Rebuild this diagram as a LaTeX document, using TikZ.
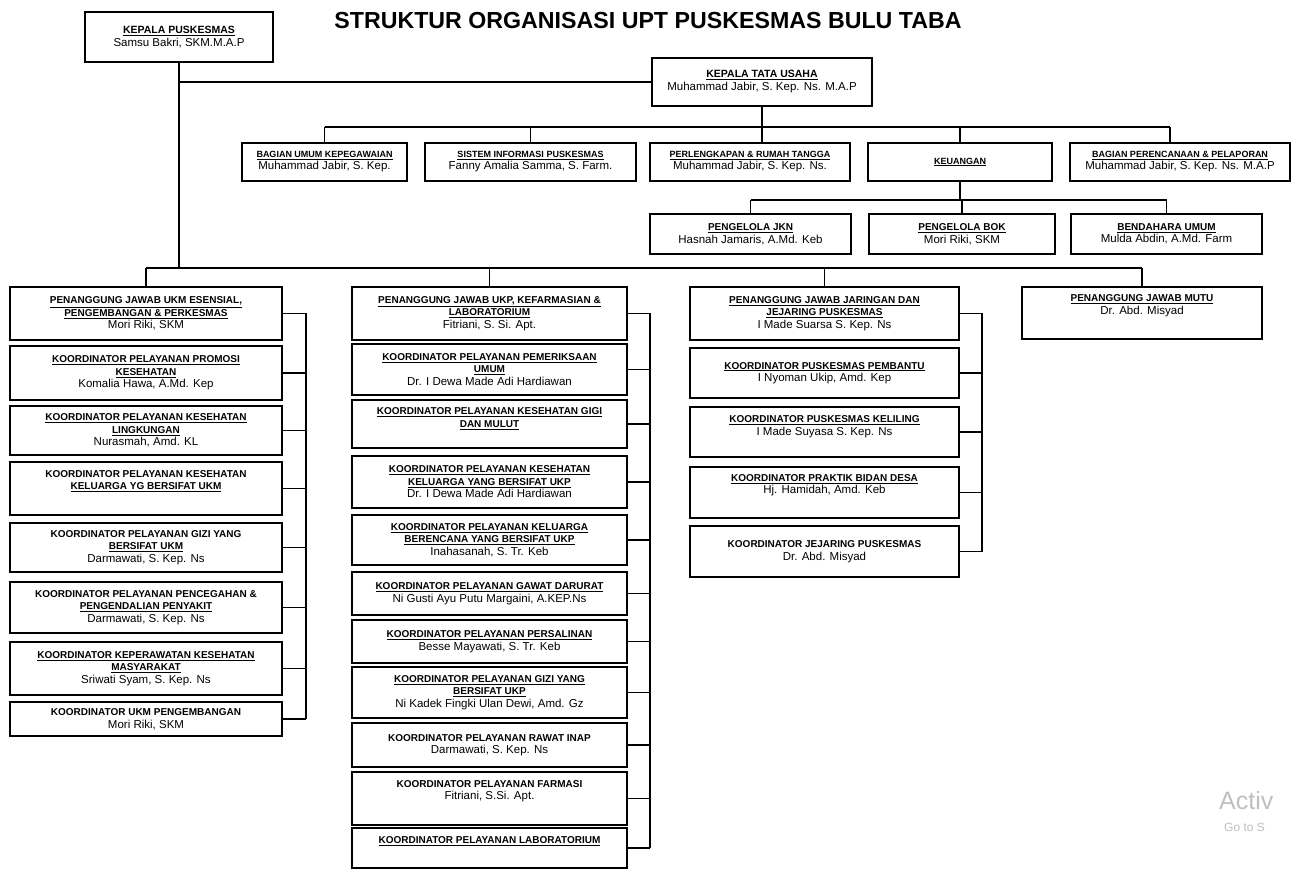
\documentclass[tikz,border=0pt]{standalone}
\usepackage{fontspec}
\setmainfont{Liberation Sans}
\newcommand{\hd}[1]{\underline{\textbf{#1}}}
\newcommand{\hb}[1]{\textbf{#1}}
\newcommand{\nm}[1]{{\fontsize{11.5}{13.5}\selectfont #1}}
\newcommand{\hs}{\rule{0pt}{5pt}}
\newcommand{\bx}[7][]{\node[box,#1,minimum width={#5-#3},minimum height={#6-#4}] (#2) at ({(#3+#5)/2},{(#4+#6)/2}) {#7};}
\tikzset{
  box/.style={draw=black, line width=1.2pt, inner sep=1pt, align=center, fill=white,
    font=\fontsize{10}{12.5}\selectfont},
  small/.style={font=\fontsize{9}{12}\selectfont},
  mid/.style={font=\fontsize{10}{12.5}\selectfont},
  big/.style={font=\fontsize{10.5}{13}\selectfont},
  ln/.style={draw=black, line width=1.1pt},
  wm/.style={text=black!25, anchor=west, inner sep=0pt}
}
\begin{document}
\begin{tikzpicture}[x=1pt,y=-1pt]
\fill[white] (0,0) rectangle (1295,874);
\useasboundingbox (0,0) rectangle (1295,874);

\node[font=\bfseries\fontsize{23.2}{27}\selectfont] (title) at (648,21) {STRUKTUR ORGANISASI UPT PUSKESMAS BULU TABA};

% top level
\bx[big]{kp}{85}{12}{273}{62}{\hd{KEPALA PUSKESMAS}\\ \nm{Samsu Bakri, SKM.M.A.P}}
\bx[big]{ktu}{652}{58}{872}{106}{\hd{KEPALA TATA USAHA}\\ \nm{Muhammad Jabir, S. Kep. Ns. M.A.P}}

% row 2
\bx[small]{b1}{242}{143}{407}{181}{\hd{BAGIAN UMUM KEPEGAWAIAN}\\ \nm{Muhammad Jabir, S. Kep.}}
\bx[small]{b2}{425}{143}{636}{181}{\hd{SISTEM INFORMASI PUSKESMAS}\\ \nm{Fanny Amalia Samma, S. Farm.}}
\bx[small]{b3}{650}{143}{850}{181}{\hd{PERLENGKAPAN \& RUMAH TANGGA}\\ \nm{Muhammad Jabir, S. Kep. Ns.}}
\bx[small]{b4}{868}{143}{1052}{181}{\hd{KEUANGAN}}
\bx[small]{b5}{1070}{143}{1290}{181}{\hd{BAGIAN PERENCANAAN \& PELAPORAN}\\ \nm{Muhammad Jabir, S. Kep. Ns. M.A.P}}

% row 3
\bx[mid]{c1}{650}{214}{851}{254}{\hd{PENGELOLA JKN}\\ \nm{Hasnah Jamaris, A.Md. Keb}}
\bx[mid]{c2}{869}{214}{1055}{254}{\hd{PENGELOLA BOK}\\ \nm{Mori Riki, SKM}}
\bx[mid]{c3}{1071}{214}{1262}{254}{\hd{BENDAHARA UMUM}\\ \nm{Mulda Abdin, A.Md. Farm}}

% left column
\bx{l1}{10}{287}{282}{340}{\hd{PENANGGUNG JAWAB UKM ESENSIAL,}\\ \hd{PENGEMBANGAN \& PERKESMAS}\\ \nm{Mori Riki, SKM}}
\bx{l2}{10}{346}{282}{400}{\hd{KOORDINATOR PELAYANAN PROMOSI}\\ \hd{KESEHATAN}\\ \nm{Komalia Hawa, A.Md. Kep}}
\bx{l3}{10}{406}{282}{455}{\hd{KOORDINATOR PELAYANAN KESEHATAN}\\ \hd{LINGKUNGAN}\\ \nm{Nurasmah, Amd. KL}}
\bx{l4}{10}{462}{282}{515}{\hb{KOORDINATOR PELAYANAN KESEHATAN}\\ \hd{KELUARGA YG BERSIFAT UKM}\\ \nm{\strut}}
\bx{l5}{10}{523}{282}{572}{\hb{KOORDINATOR PELAYANAN GIZI YANG}\\ \hd{BERSIFAT UKM}\\ \nm{Darmawati, S. Kep. Ns}}
\bx{l6}{10}{582}{282}{633}{\hb{KOORDINATOR PELAYANAN PENCEGAHAN \&}\\ \hd{PENGENDALIAN PENYAKIT}\\ \nm{Darmawati, S. Kep. Ns}}
\bx{l7}{10}{642}{282}{695}{\hd{KOORDINATOR KEPERAWATAN KESEHATAN}\\ \hd{MASYARAKAT}\\ \nm{Sriwati Syam, S. Kep. Ns}}
\bx{l8}{10}{702}{282}{736}{\hb{KOORDINATOR UKM PENGEMBANGAN}\\ \nm{Mori Riki, SKM}}

% middle column
\bx{m1}{352}{287}{627}{340}{\hd{PENANGGUNG JAWAB UKP, KEFARMASIAN \&}\\ \hd{LABORATORIUM}\\ \nm{Fitriani, S. Si. Apt.}}
\bx{m2}{352}{344}{627}{395}{\hd{KOORDINATOR PELAYANAN PEMERIKSAAN}\\ \hd{UMUM}\\ \nm{Dr. I Dewa Made Adi Hardiawan}}
\bx{m3}{352}{400}{627}{448}{\hd{KOORDINATOR PELAYANAN KESEHATAN GIGI}\\ \hd{DAN MULUT}\\ \hs}
\bx{m4}{352}{456}{627}{508}{\hd{KOORDINATOR PELAYANAN KESEHATAN}\\ \hd{KELUARGA YANG BERSIFAT UKP}\\ \nm{Dr. I Dewa Made Adi Hardiawan}}
\bx{m5}{352}{515}{627}{565}{\hd{KOORDINATOR PELAYANAN KELUARGA}\\ \hd{BERENCANA YANG BERSIFAT UKP}\\ \nm{Inahasanah, S. Tr. Keb}}
\bx{m6}{352}{572}{627}{615}{\hd{KOORDINATOR PELAYANAN GAWAT DARURAT}\\ \nm{Ni Gusti Ayu Putu Margaini, A.KEP.Ns}}
\bx{m7}{352}{620}{627}{663}{\hd{KOORDINATOR PELAYANAN PERSALINAN}\\ \nm{Besse Mayawati, S. Tr. Keb}}
\bx{m8}{352}{667}{627}{718}{\hd{KOORDINATOR PELAYANAN GIZI YANG}\\ \hd{BERSIFAT UKP}\\ \nm{Ni Kadek Fingki Ulan Dewi, Amd. Gz}}
\bx{m9}{352}{723}{627}{767}{\hb{KOORDINATOR PELAYANAN RAWAT INAP}\\ \nm{Darmawati, S. Kep. Ns}}
\bx{m10}{352}{772}{627}{825}{\hb{KOORDINATOR PELAYANAN FARMASI}\\ \nm{Fitriani, S.Si. Apt.}\\ \nm{\strut}}
\bx{m11}{352}{828}{627}{868}{\hd{KOORDINATOR PELAYANAN LABORATORIUM}\\ \nm{\strut}}

% right column
\bx{r1}{690}{287}{959}{340}{\hd{PENANGGUNG JAWAB JARINGAN DAN}\\ \hd{JEJARING PUSKESMAS}\\ \nm{I Made Suarsa S. Kep. Ns}}
\bx{r2}{690}{348}{959}{398}{\hd{KOORDINATOR PUSKESMAS PEMBANTU}\\ \nm{I Nyoman Ukip, Amd. Kep}}
\bx{r3}{690}{407}{959}{457}{\hd{KOORDINATOR PUSKESMAS KELILING}\\ \nm{I Made Suyasa S. Kep. Ns}\\ \hs}
\bx{r4}{690}{467}{959}{518}{\hd{KOORDINATOR PRAKTIK BIDAN DESA}\\ \nm{Hj. Hamidah, Amd. Keb}\\ \nm{\strut}}
\bx{r5}{690}{526}{959}{577}{\hb{KOORDINATOR JEJARING PUSKESMAS}\\ \nm{Dr. Abd. Misyad}}

% far right
\bx{f1}{1022}{287}{1262}{339}{\hd{PENANGGUNG JAWAB MUTU}\\ \nm{Dr. Abd. Misyad}\\ \nm{\strut}}

% connectors: top
\coordinate (bus) at (0,268);
\coordinate (bus2) at (0,127);
\coordinate (bus3) at (0,200);
\coordinate (b5drop) at (1170,0);
\draw[ln] (kp.south) -- (kp.south |- bus);
\draw[ln] (kp.south |- ktu.west) -- (ktu.west);
\draw[ln] (l1.north |- bus) -- (f1.north |- bus);
\foreach \n in {l1,m1,r1,f1} \draw[ln] (\n.north) -- (\n.north |- bus);

% row 2
\draw[ln] (ktu.south) -- (ktu.south |- b3.north);
\draw[ln] (b1.north |- bus2) -- (b5drop |- bus2);
\foreach \n in {b1,b2,b4} \draw[ln] (\n.north) -- (\n.north |- bus2);
\draw[ln] (b5drop |- b5.north) -- (b5drop |- bus2);

% row 3
\draw[ln] (b4.south) -- (b4.south |- bus3);
\draw[ln] (c1.north |- bus3) -- (c3.north |- bus3);
\foreach \n in {c1,c2,c3} \draw[ln] (\n.north) -- (\n.north |- bus3);

% column rails
\coordinate (lv) at (306,0);
\coordinate (mv) at (650,0);
\coordinate (rv) at (982,0);
\draw[ln] (l1.east -| lv) -- (l8.east -| lv);
\foreach \n in {l1,l2,l3,l4,l5,l6,l7,l8} \draw[ln] (\n.east) -- (\n.east -| lv);
\draw[ln] (m1.east -| mv) -- (m11.east -| mv);
\foreach \n in {m1,m2,m3,m4,m5,m6,m7,m8,m9,m10,m11} \draw[ln] (\n.east) -- (\n.east -| mv);
\draw[ln] (r1.east -| rv) -- (r5.east -| rv);
\foreach \n in {r1,r2,r3,r4,r5} \draw[ln] (\n.east) -- (\n.east -| rv);

% screen watermark
\node[wm, font=\fontsize{25}{28}\selectfont] (wm1) at (1219,801) {Activ};
\node[wm, font=\fontsize{12}{14}\selectfont] (wm2) at (1224,827) {Go to S};
\end{tikzpicture}
\end{document}
